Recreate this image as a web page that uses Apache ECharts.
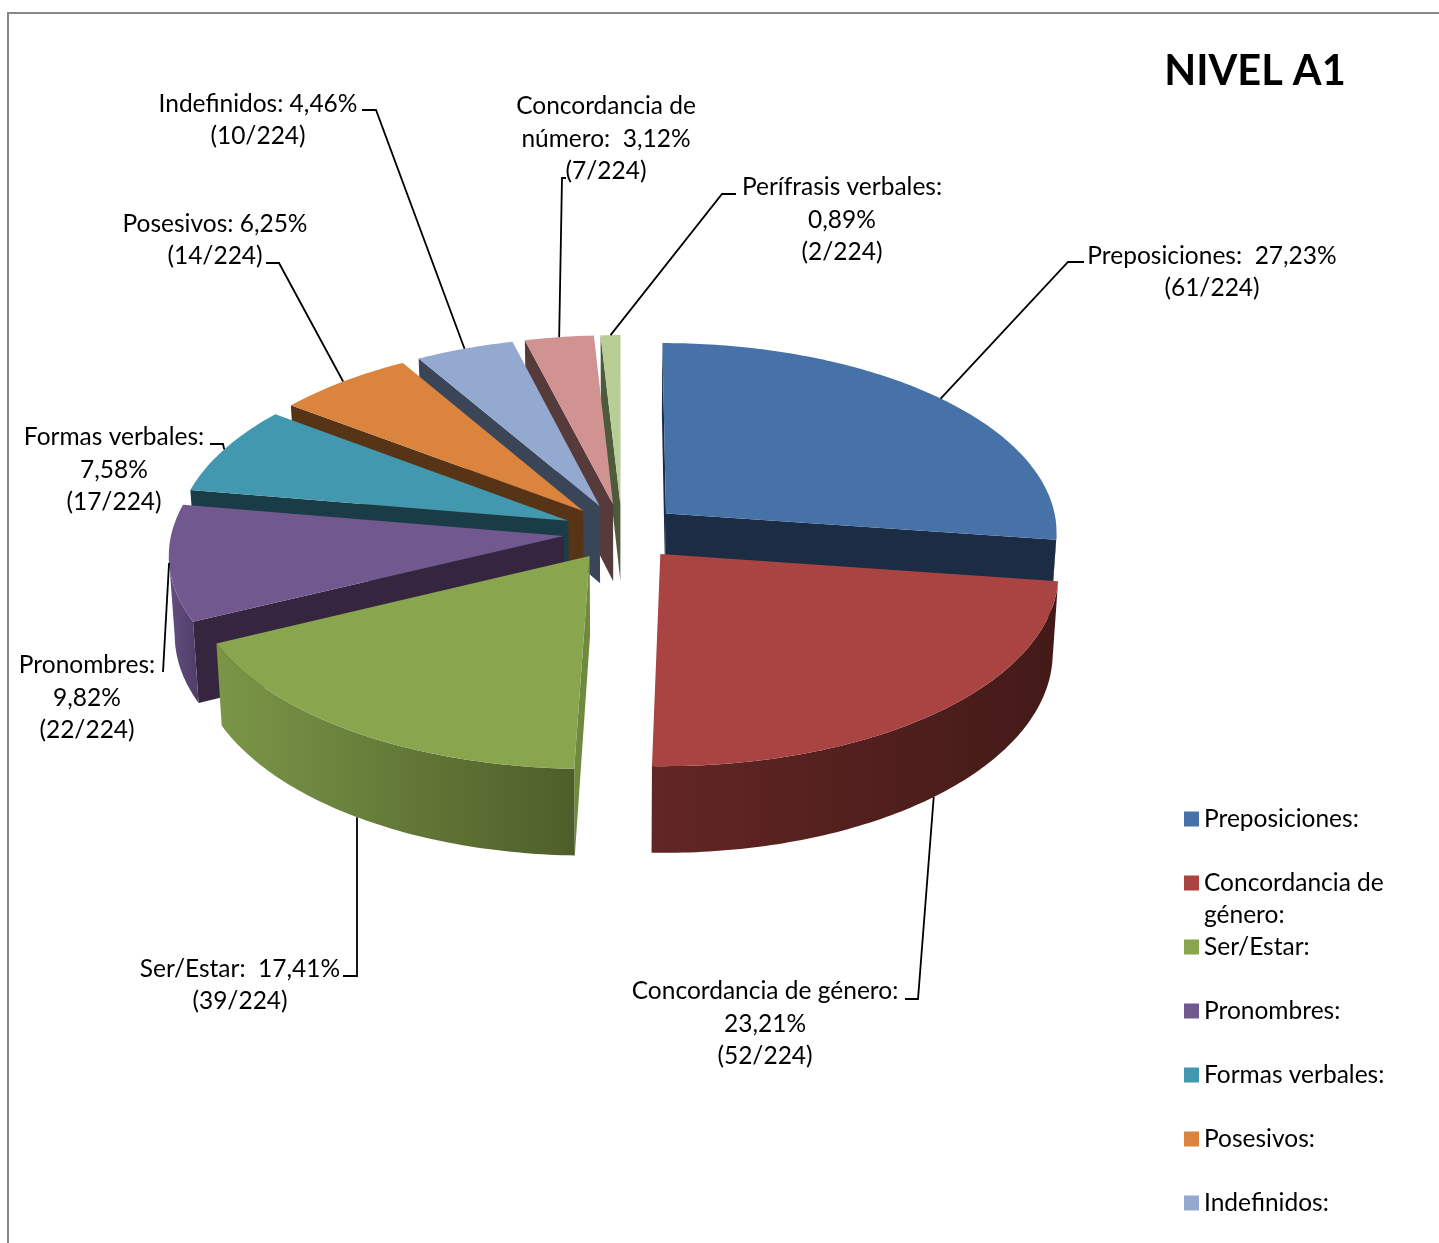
<!DOCTYPE html>
<html>
<head>
<meta charset="utf-8">
<style>
  html, body { margin: 0; padding: 0; background: #fff; }
  #main { width: 1439px; height: 1243px; }
</style>
<script src="https://cdn.jsdelivr.net/npm/echarts@6/dist/echarts.min.js"></script>
</head>
<body>
<div id="main"></div>
<script>
// datos
var categories = ['Preposiciones:', 'Concordancia de género:', 'Ser/Estar:', 'Pronombres:', 'Formas verbales:',
  'Posesivos:', 'Indefinidos:', 'Concordancia de número:', 'Perífrasis verbales:'];
var counts = [61, 52, 39, 22, 17, 14, 10, 7, 2];
var percents = ['27,23%', '23,21%', '17,41%', '9,82%', '7,58%', '6,25%', '4,46%', '3,12%', '0,89%'];
var total = 224;

var topColors = ['#4672a8', '#a94442', '#89a54e', '#71588f', '#4198af', '#db843d', '#93a9cf', '#d19392', '#b9cd96'];
var edgeColors = ['#1a2d45', '#441a18', '#6f8a3e', '#35253f', '#1a3c47', '#583416', '#3a4557', '#573b3b', '#4e5a3c'];
var wallStops = [
  ['#1a2d45', '#1a2d45'], ['#622624', '#431a18'], ['#7b9647', '#4e5e2a'], ['#644e80', '#4f3d68'],
  ['#1f4a57', '#1f4a57'], ['#6e4019', '#6e4019'], ['#47536a', '#47536a'], ['#6a4a4a', '#6a4a4a'], ['#5d6b47', '#5d6b47']
];

// texto de cada etiqueta, centro del bloque y codo de la linea guia
var labelTexts = [
  'Preposiciones:  27,23%\n(61/224)',
  'Concordancia de género:\n23,21%\n(52/224)',
  'Ser/Estar:  17,41%\n(39/224)',
  'Pronombres:\n9,82%\n(22/224)',
  'Formas verbales:\n7,58%\n(17/224)',
  'Posesivos: 6,25%\n(14/224)',
  'Indefinidos: 4,46%\n(10/224)',
  'Concordancia de\nnúmero:  3,12%\n(7/224)',
  'Perífrasis verbales:\n0,89%\n(2/224)'
];
var labelCenters = [[1212, 272], [765, 1024], [240, 985], [87, 698], [114, 470], [215, 240], [258, 120], [606, 139], [842, 220]];
var leaderStarts = [[1084, 262], [905, 999], [343, 976], [163, 672], [210, 444], [266, 263], [362, 110], [566, 178], [736, 194]];
var leaderElbows = [[1068, 262], [918, 999], [357, 976], [163, 672], [223, 444], [279, 263], [376, 110], [562, 178], [722, 194]];

// proyeccion del disco
var cx = 622, cy = 532, rx = 392, ry = 189;
var persp = 0.09, explode = 0.15, depth = 78, shrink = 0.987;

function project(X, Z, bottom) {
  var s = 1 / (1 - persp * Z);
  var x = cx + rx * X * s;
  var y = cy + ry * Z * s;
  if (bottom) {
    x = cx + (x - cx) * shrink;
    y += depth * s;
  }
  return [x, y];
}

function signedArea(p) {
  var a = 0;
  for (var i = 0; i < p.length; i++) {
    var q = p[(i + 1) % p.length];
    a += p[i][0] * q[1] - q[0] * p[i][1];
  }
  return a;
}

function sumBefore(idx) {
  var t = 0;
  for (var i = 0; i < idx; i++) t += counts[i];
  return t;
}

function renderSlice(idx, api) {
  var a0 = sumBefore(idx) / total * Math.PI * 2;
  var a1 = a0 + api.value(0) / total * Math.PI * 2;
  var mid = (a0 + a1) / 2;
  var ox = explode * Math.sin(mid), oz = -explode * Math.cos(mid);

  function rim(a, bottom) {
    return project(ox + Math.sin(a), oz - Math.cos(a), bottom);
  }
  var apexTop = project(ox, oz, false), apexBot = project(ox, oz, true);

  var n = Math.max(4, Math.ceil((a1 - a0) / 0.015));
  var arcTop = [], arcBot = [];
  for (var i = 0; i <= n; i++) {
    var a = a0 + (a1 - a0) * i / n;
    arcTop.push(rim(a, false));
    arcBot.push(rim(a, true));
  }

  var children = [];
  var startWall = [apexTop, arcTop[0], arcBot[0], apexBot];
  var endWall = [apexTop, arcTop[n], arcBot[n], apexBot];
  if (signedArea(startWall) < 0) {
    children.push({ type: 'polygon', shape: { points: startWall }, style: { fill: edgeColors[idx] } });
  }
  if (signedArea(endWall) > 0) {
    children.push({ type: 'polygon', shape: { points: endWall }, style: { fill: edgeColors[idx] } });
  }

  // pared exterior: solo los tramos que miran al frente
  var first = -1, last = -1;
  for (var j = 0; j < n; j++) {
    if (arcTop[j + 1][0] < arcTop[j][0]) {
      if (first < 0) first = j;
      last = j + 1;
    }
  }
  if (first >= 0) {
    var wall = arcTop.slice(first, last + 1).concat(arcBot.slice(first, last + 1).reverse());
    children.push({
      type: 'polygon',
      shape: { points: wall },
      style: {
        fill: new echarts.graphic.LinearGradient(0, 0, 1, 0, [
          { offset: 0, color: wallStops[idx][0] },
          { offset: 1, color: wallStops[idx][1] }
        ])
      }
    });
  }

  children.push({
    type: 'polygon',
    shape: { points: [apexTop].concat(arcTop) },
    style: { fill: topColors[idx] }
  });

  // linea guia y etiqueta
  var anchorOnWall = -Math.cos(mid) > 0.5;
  children.push({
    type: 'polyline',
    shape: { points: [leaderStarts[idx], leaderElbows[idx], rim(mid, anchorOnWall)] },
    style: { fill: null, stroke: '#000', lineWidth: 1.8 }
  });
  children.push({
    type: 'text',
    style: {
      x: labelCenters[idx][0],
      y: labelCenters[idx][1],
      text: labelTexts[idx],
      align: 'center',
      verticalAlign: 'middle',
      font: '24.5px Lato',
      lineHeight: 32.5,
      fill: '#000'
    }
  });

  return { type: 'group', children: children };
}

// orden de pintado: de atras hacia delante
var seriesList = categories.map(function (name, idx) {
  var mid = (sumBefore(idx) + counts[idx] / 2) / total * Math.PI * 2;
  return {
    type: 'custom',
    name: name,
    coordinateSystem: 'none',
    z: Math.round(-Math.cos(mid) * 100) + 200,
    clip: false,
    silent: true,
    itemStyle: { color: topColors[idx] },
    data: [[counts[idx]]],
    renderItem: function (params, api) {
      return renderSlice(idx, api);
    }
  };
});

var legendLines = {
  'Concordancia de género:': 'Concordancia de\ngénero:',
  'Concordancia de número:': 'Concordancia de\nnúmero:'
};

var myChart = echarts.init(document.getElementById('main'));

var option = {
  backgroundColor: '#fff',
  animation: false,
  title: {
    text: 'NIVEL A1',
    left: 1250,
    top: 46,
    textAlign: 'center',
    textStyle: { fontFamily: 'Lato', fontWeight: 'bold', fontSize: 41.5, color: '#000' }
  },
  legend: {
    orient: 'vertical',
    left: 1184,
    top: 771,
    height: 2000,
    padding: 0,
    itemGap: -32,
    itemWidth: 15,
    itemHeight: 15,
    icon: 'rect',
    selectedMode: false,
    data: categories,
    formatter: function (name) {
      var text = legendLines[name] || (name + '\n ');
      return '\n' + text;
    },
    textStyle: { fontFamily: 'Lato', fontSize: 24.5, lineHeight: 32, color: '#000' }
  },
  graphic: [{
    type: 'polyline',
    silent: true,
    shape: { points: [[8, 1243], [8, 13], [1439, 13]] },
    style: { fill: null, stroke: '#878787', lineWidth: 2 }
  }],
  series: seriesList
};

myChart.setOption(option);
</script>
</body>
</html>
